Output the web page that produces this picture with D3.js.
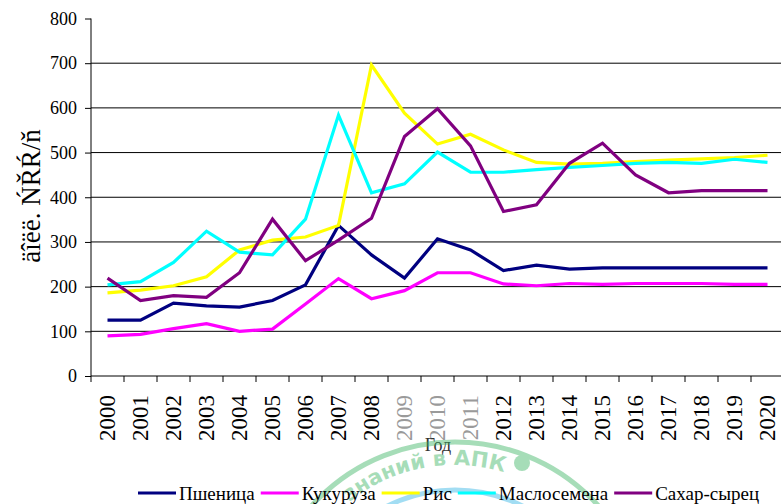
<!DOCTYPE html>
<html>
<head>
<meta charset="utf-8">
<script src="https://cdn.jsdelivr.net/npm/d3@7/dist/d3.min.js"></script>
<style>
  body { margin: 0; background: #fff; }
</style>
</head>
<body>
<svg id="chart" width="781" height="504"></svg>
<script>
var years = ["2000","2001","2002","2003","2004","2005","2006","2007","2008","2009","2010",
  "2011","2012","2013","2014","2015","2016","2017","2018","2019","2020"];
var wheat = [125,125,163,157,154,169,204,337,271,219,307,282,236,248,239,242,242,242,242,242,242];
var corn = [90,93,106,117,100,105,161,218,173,191,231,231,206,202,207,205,207,207,207,205,205];
var rice = [186,192,202,222,282,304,311,337,696,588,519,541,506,478,474,476,480,483,486,489,494];
var oilseeds = [204,211,254,324,277,271,351,584,410,430,501,456,456,462,467,471,476,478,476,485,478];
var sugar = [219,169,180,176,231,351,258,304,353,536,598,515,368,383,476,521,450,410,415,415,415];
var seriesNames = ["Пшеница","Кукуруза","Рис","Маслосемена","Сахар-сырец"];
var seriesColors = ["#000080","#ff00ff","#ffff00","#00ffff","#800080"];
var yTicks = [0,100,200,300,400,500,600,700,800];

(function Chart() {
  var svg = d3.select("#chart");
  var series = [wheat, corn, rice, oilseeds, sugar];
  var serif = "'Liberation Serif'";

  var x = d3.scaleBand().domain(years).range([91, 784]);
  var y = d3.scaleLinear().domain([0, 800]).range([376, 18.5]);

  // gridlines (no line at 800)
  svg.append("g")
    .selectAll("line")
    .data(yTicks.filter(function (d) { return d > 0 && d < 800; }))
    .enter().append("line")
      .attr("x1", 91).attr("x2", 781)
      .attr("y1", function (d) { return y(d); })
      .attr("y2", function (d) { return y(d); })
      .attr("stroke", "#000");

  // y axis
  var yAxis = svg.append("g")
    .attr("transform", "translate(91,0)")
    .call(d3.axisLeft(y).tickValues(yTicks).tickSize(6).tickPadding(8));
  yAxis.select(".domain").attr("stroke", "#000").attr("d", "M0," + y(800) + "V" + y(0));
  yAxis.selectAll("text")
    .style("font-family", serif).style("font-size", "18px").attr("fill", "#000");

  // x axis, ticks at band edges
  var xAxis = svg.append("g").attr("transform", "translate(0,376)");
  xAxis.append("line").attr("x1", 91).attr("x2", 781).attr("stroke", "#000");
  xAxis.selectAll(".tk")
    .data(years)
    .enter().append("line")
      .attr("class", "tk")
      .attr("x1", function (d) { return x(d); })
      .attr("x2", function (d) { return x(d); })
      .attr("y1", 0).attr("y2", 6)
      .attr("stroke", "#000");
  xAxis.selectAll("text")
    .data(years)
    .enter().append("text")
      .attr("transform", function (d) {
        return "translate(" + (x(d) + x.bandwidth() / 2 + 7) + ",19) rotate(-90)";
      })
      .attr("text-anchor", "end")
      .style("font-family", serif).style("font-size", "23px")
      .attr("fill", function (d) { return (d === "2009" || d === "2010" || d === "2011") ? "#9a9a9a" : "#000"; })
      .text(function (d) { return d; });

  // lines
  var line = d3.line()
    .x(function (d, i) { return x(years[i]) + x.bandwidth() / 2; })
    .y(function (d) { return y(d); });
  svg.append("g")
    .selectAll("path")
    .data(series)
    .enter().append("path")
      .attr("d", line)
      .attr("fill", "none")
      .attr("stroke", function (d, i) { return seriesColors[i]; })
      .attr("stroke-width", 3.2)
      .attr("stroke-linejoin", "miter");

  // axis titles
  svg.append("text")
    .attr("transform", "translate(40,196) rotate(-90)")
    .attr("text-anchor", "middle")
    .style("font-family", serif).style("font-size", "27px")
    .text("äîëë.  ŃŘŔ/ň");
  svg.append("text")
    .attr("x", 438).attr("y", 451)
    .attr("text-anchor", "middle")
    .style("font-family", serif).style("font-size", "18px")
    .attr("fill", "#333")
    .text("Год");

  // watermark (faint)
  var wm = svg.append("g").attr("opacity", 0.45);
  wm.append("circle").attr("cx", 455).attr("cy", 635).attr("r", 193)
    .attr("fill", "none").attr("stroke", "#3cb464").attr("stroke-width", 5);
  wm.append("circle").attr("cx", 455).attr("cy", 640).attr("r", 150)
    .attr("fill", "none").attr("stroke", "#33b5e5").attr("stroke-width", 5);
  wm.append("circle").attr("cx", 522).attr("cy", 463).attr("r", 8).attr("fill", "#3cb464");
  wm.append("path").attr("id", "wmarc")
    .attr("d", "M285,635 A170,170 0 0 1 625,635").attr("fill", "none");
  wm.append("text").style("font-family", "'DejaVu Sans'").attr("font-weight", "bold")
    .style("font-size", "21px").attr("fill", "#3cb464")
    .append("textPath").attr("href", "#wmarc").attr("startOffset", "44%")
    .attr("text-anchor", "middle").text("знаний в АПК");

  // legend
  var leg = svg.append("g").attr("transform", "translate(0,493)");
  var cx = 138;
  seriesNames.forEach(function (name, i) {
    leg.append("line").attr("x1", cx).attr("x2", cx + 38)
      .attr("stroke", seriesColors[i]).attr("stroke-width", 3.2);
    var t = leg.append("text").attr("x", cx + 41).attr("y", 7)
      .style("font-family", serif).style("font-size", "19px").text(name);
    cx += 41 + t.node().getComputedTextLength() + 6;
  });
})();
</script>
</body>
</html>
